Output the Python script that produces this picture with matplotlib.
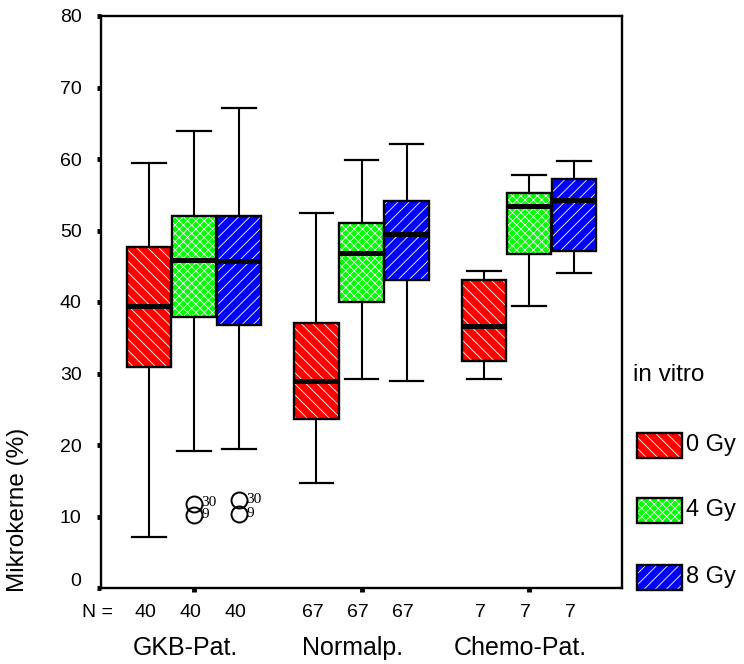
import matplotlib
matplotlib.use("Agg")
import matplotlib.pyplot as plt
from matplotlib.patches import PathPatch, Rectangle
from matplotlib.transforms import ScaledTranslation

plt.rcParams['font.family'] = ['Liberation Sans', 'DejaVu Sans']
plt.rcParams['hatch.linewidth'] = 0.6

# ---------------- data ----------------
groups = ["GKB-Pat.", "Normalp.", "Chemo-Pat."]
doses = ["0 Gy", "4 Gy", "8 Gy"]
n_counts = [40, 67, 7]
colors = ["#FF0000", "#00FF00", "#0000FF"]
hatches = ["\\\\\\", "xxxx", "///"]

# [dose][group]
medians = [[39.4, 29.0, 36.7], [45.9, 46.9, 53.4], [45.8, 49.5, 54.3]]
q1s = [[30.9, 23.6, 31.8], [37.9, 40.0, 46.7], [36.8, 43.1, 47.2]]
q3s = [[47.7, 37.1, 43.1], [52.0, 51.0, 55.3], [52.0, 54.1, 57.2]]
whislos = [[7.1, 14.7, 29.2], [19.2, 29.2, 39.5], [19.4, 29.0, 44.1]]
whishis = [[59.5, 52.5, 44.3], [63.9, 59.9, 57.8], [67.2, 62.1, 59.7]]
outliers = [[[], [], []], [[11.8, 10.2], [], []], [[12.3, 10.3], [], []]]
outlier_ids = [[[], [], []], [["30", "9"], [], []], [["30", "9"], [], []]]

yticks = [0, 10, 20, 30, 40, 50, 60, 70, 80]

# ---------------- figure ----------------
fig = plt.figure(figsize=(7.44, 6.64), dpi=100)
ax = fig.add_axes([101 / 744, 1 - 588 / 664, (622 - 101) / 744, (588 - 16) / 664])

offset = 0.2687
width = 0.265
for d in range(3):
    stats = []
    pos = []
    for g in range(3):
        stats.append(dict(med=medians[d][g], q1=q1s[d][g], q3=q3s[d][g],
                          whislo=whislos[d][g], whishi=whishis[d][g],
                          fliers=outliers[d][g]))
        pos.append(g + 1 + (d - 1) * offset)
    res = ax.bxp(stats, positions=pos, widths=width, capwidths=0.2,
                 patch_artist=True, showfliers=True,
                 boxprops=dict(facecolor=colors[d], edgecolor='white',
                               hatch=hatches[d], linewidth=0),
                 medianprops=dict(color='black', linewidth=3.6, solid_capstyle='butt'),
                 whiskerprops=dict(color='black', linewidth=1.5),
                 capprops=dict(color='black', linewidth=1.6),
                 flierprops=dict(marker='o', markersize=11.5, markerfacecolor='none',
                                 markeredgecolor='black', markeredgewidth=1.4))
    for b in res['boxes']:
        b.set_zorder(2)
        ax.add_patch(PathPatch(b.get_path(), fill=False, edgecolor='black',
                               linewidth=1.7, zorder=2.5))
    for m in res['medians']:
        m.set_zorder(3)
    for g in range(3):
        for val, lab in zip(outliers[d][g], outlier_ids[d][g]):
            ax.annotate(lab, (pos[g], val), xytext=(5.5, 0.5),
                        textcoords='offset points', fontsize=11,
                        family='Liberation Serif', va='center', ha='left')

ax.set_ylim(0, 80)
ax.set_xlim(1 - (194 - 101) / 167.5, 1 + (622 - 194) / 167.5)
ax.set_yticks(yticks)
ax.set_xticks([1, 2, 3])
ax.set_xticklabels([])
ax.tick_params(axis='y', direction='out', length=3, width=3.5, labelsize=14, pad=11)
ax.tick_params(axis='x', direction='out', length=3, width=3.5)
for s in ax.spines.values():
    s.set_linewidth(1.7)

# raise the "0" label a little, as in the reference
lab0 = ax.yaxis.get_major_ticks()[0].label1
lab0.set_transform(lab0.get_transform() + ScaledTranslation(0, 0.09, fig.dpi_scale_trans))

# N row and group labels
px = 1 / 167.5
for g in range(3):
    for d in range(3):
        ax.text(g + 1 + (d - 1) * offset - 4 * px, 1 - 617 / 664, str(n_counts[g]),
                transform=ax.get_xaxis_transform() + ScaledTranslation(0, 0, fig.dpi_scale_trans),
                ha='center', va='baseline', fontsize=14) if False else None
        fig.text((101 + (g + 1 + (d - 1) * offset - ax.get_xlim()[0]) / px - 4) / 744 - 101 / 744 + 101 / 744 if False else 0, 0, "") if False else None

for g in range(3):
    for d in range(3):
        xpos = g + 1 + (d - 1) * offset - 4 * px
        ax.annotate(str(n_counts[g]), (xpos, 0), xycoords=('data', 'axes fraction'),
                    xytext=(0, -(617 - 588) * 0.72), textcoords='offset points',
                    ha='center', va='baseline', fontsize=14)
    ax.annotate(groups[g], (g + 1 - 9 * px, 0), xycoords=('data', 'axes fraction'),
                xytext=(0, -(655 - 588) * 0.72), textcoords='offset points',
                ha='center', va='baseline', fontsize=18)
fig.text(97 / 744, 1 - 617 / 664, "N =", ha='center', va='baseline', fontsize=14)

fig.text(18 / 744, 1 - 510 / 664, "Mikrokerne (%)", rotation=90,
         ha='center', va='center', fontsize=17.5)

# legend
fig.text(633 / 744, 1 - 375 / 664, "in vitro", ha='left', va='center', fontsize=17.5)
leg_y = [445, 510, 577]
for d in range(3):
    y0 = 1 - (leg_y[d] + 12.5) / 664
    fig.add_artist(Rectangle((637 / 744, y0), 45 / 744, 25 / 664,
                             transform=fig.transFigure, facecolor=colors[d],
                             edgecolor='white', hatch=hatches[d], linewidth=0))
    fig.add_artist(Rectangle((637 / 744, y0), 45 / 744, 25 / 664,
                             transform=fig.transFigure, fill=False,
                             edgecolor='black', linewidth=1.7))
    fig.text(686 / 744, 1 - leg_y[d] / 664, doses[d], ha='left', va='center',
             fontsize=17)

fig.savefig("out.png", dpi=100)
